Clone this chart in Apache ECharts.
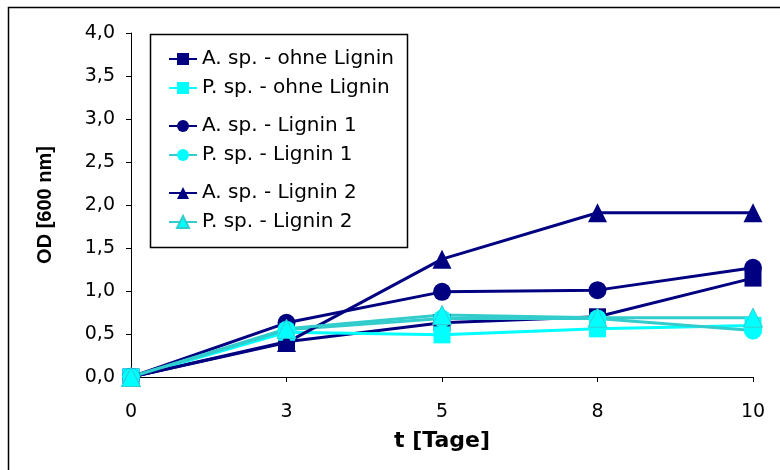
<!DOCTYPE html>
<html>
<head>
<meta charset="utf-8">
<script src="https://cdn.jsdelivr.net/npm/echarts@6/dist/echarts.min.js"></script>
<style>html,body{margin:0;padding:0;background:#fff;}#c{width:780px;height:470px;}</style>
</head>
<body>
<div id="c"></div>
<script>
const categories = ['0', '3', '5', '8', '10'];
const aOhne = [0, 0.41, 0.63, 0.70, 1.15];
const pOhne = [0, 0.52, 0.49, 0.56, 0.60];
const aL1 = [0, 0.63, 0.99, 1.01, 1.27];
const pL1 = [0, 0.55, 0.68, 0.68, 0.54];
const aL2 = [0, 0.40, 1.37, 1.91, 1.91];
const pL2 = [0, 0.56, 0.72, 0.69, 0.69];
const names = ['A. sp. - ohne Lignin', 'P. sp. - ohne Lignin', 'A. sp. - Lignin 1', 'P. sp. - Lignin 1', 'A. sp. - Lignin 2', 'P. sp. - Lignin 2'];

const NAVY = '#000080', CYAN = '#00FFFF', TURQ = '#33CCCC';
const FONT = 'DejaVu Sans';

function mk(name, data, lineColor, fill, symbol, size, border) {
  return {
    name: name, type: 'line', data: data,
    symbol: symbol, symbolSize: size,
    lineStyle: {color: lineColor, width: 3},
    itemStyle: {color: fill, borderColor: border || fill, borderWidth: border ? 1 : 0},
    emphasis: {disabled: true},
    animation: false
  };
}

const legendBase = {
  left: 163, orient: 'vertical', itemWidth: 28, itemHeight: 15, itemGap: 9,
  textStyle: {fontFamily: FONT, fontSize: 20, color: '#000', lineHeight: 20},
  selectedMode: false
};

const chart = echarts.init(document.getElementById('c'), null, {renderer: 'canvas'});
chart.setOption({
  animation: false,
  backgroundColor: '#fff',
  graphic: [
    {type: 'rect', shape: {x: 8.5, y: 7.5, width: 1000, height: 1000}, style: {fill: 'none', stroke: '#000', lineWidth: 1.5}, z: 0, silent: true},
    {type: 'rect', shape: {x: 150.5, y: 34.5, width: 257, height: 213}, style: {fill: '#fff', stroke: '#000', lineWidth: 1.5}, z: 1, silent: true}
  ],
  legend: [
    Object.assign({}, legendBase, {top: 44, data: [names[0], names[1]], z: 5}),
    Object.assign({}, legendBase, {top: 111, data: [names[2], names[3]], z: 5}),
    Object.assign({}, legendBase, {top: 178, data: [names[4], names[5]], z: 5})
  ],
  grid: {left: 131, right: 27, top: 33, bottom: 93, containLabel: false},
  xAxis: {
    type: 'category', data: categories, boundaryGap: false,
    name: 't [Tage]', nameLocation: 'middle', nameGap: 53,
    nameTextStyle: {fontFamily: FONT, fontSize: 22, fontWeight: 'bold', color: '#000'},
    axisLine: {lineStyle: {color: '#000', width: 1}},
    axisTick: {show: true, length: 5, lineStyle: {color: '#000'}},
    axisLabel: {fontFamily: FONT, fontSize: 19, color: '#000', margin: 26},
    splitLine: {show: false}
  },
  yAxis: {
    type: 'value', min: 0, max: 4, interval: 0.5,
    name: 'OD [600 nm]', nameLocation: 'middle', nameGap: 76,
    nameTextStyle: {fontFamily: 'Liberation Sans', fontSize: 20, fontWeight: 'bold', color: '#000'},
    axisLine: {show: true, lineStyle: {color: '#000', width: 1}},
    axisTick: {show: true, length: 5, lineStyle: {color: '#000'}},
    axisLabel: {fontFamily: FONT, fontSize: 19, color: '#000', margin: 16,
      formatter: v => v.toFixed(1).replace('.', ',')},
    splitLine: {show: false}
  },
  series: [
    mk(names[0], aOhne, NAVY, NAVY, 'rect', 17),
    mk(names[1], pOhne, CYAN, CYAN, 'rect', 17),
    mk(names[2], aL1, NAVY, NAVY, 'circle', 18),
    mk(names[3], pL1, TURQ, CYAN, 'circle', 18),
    mk(names[4], aL2, NAVY, NAVY, 'triangle', 19),
    mk(names[5], pL2, TURQ, CYAN, 'triangle', 19, TURQ)
  ]
});
</script>
</body>
</html>
